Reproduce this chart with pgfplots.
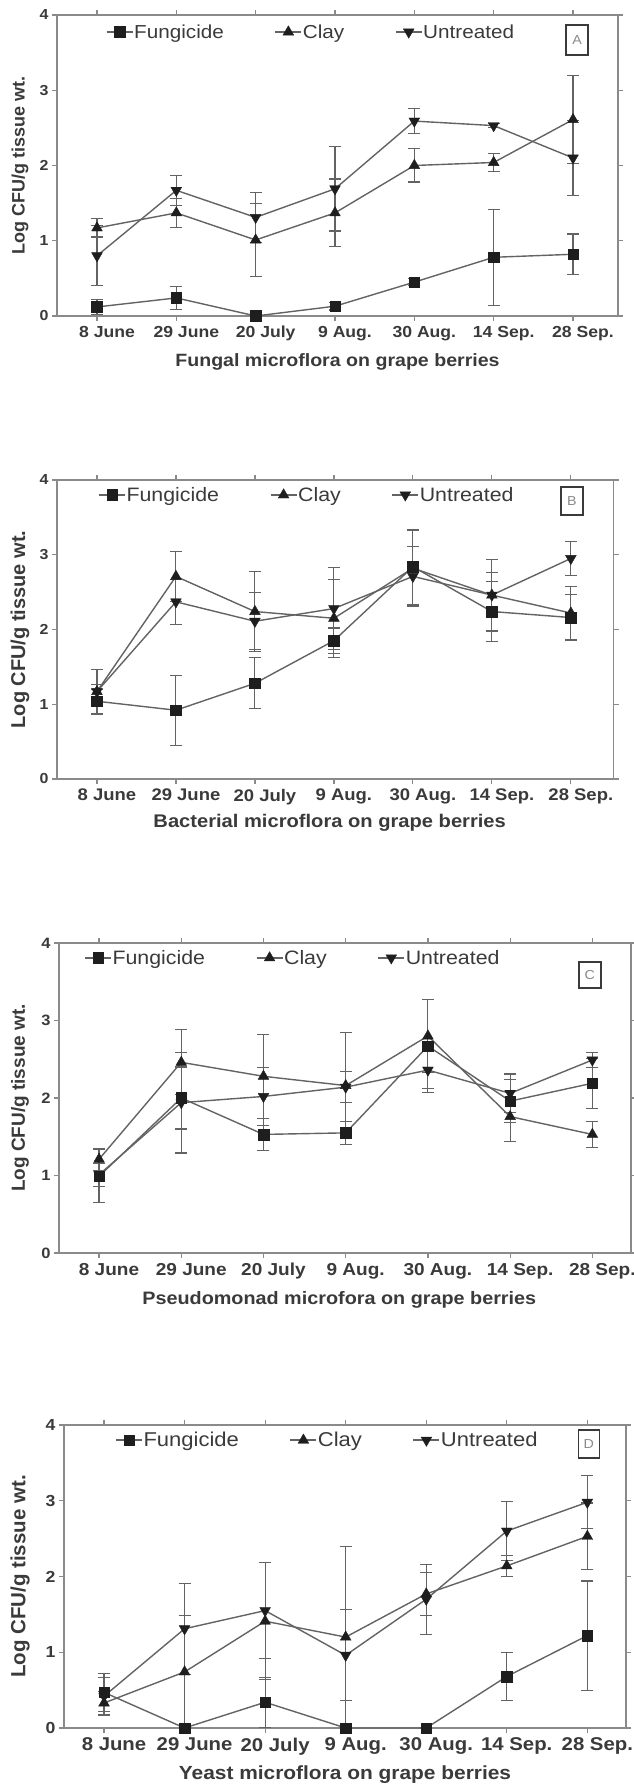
\documentclass[border=0pt]{standalone}
\usepackage{fontspec}
\setmainfont{Liberation Sans}[FakeStretch=1.1]
\newfontfamily\ylfont{Liberation Sans}
\usepackage{pgfplots}
\pgfplotsset{compat=1.18}
\usepackage{pgfplotstable}

\definecolor{frame}{HTML}{8A8A8A}
\definecolor{dline}{HTML}{636363}
\definecolor{mk}{HTML}{1E1E1E}
\definecolor{txt}{HTML}{3A3A3A}

% x: 0=8 June ... 6=28 Sep.; f=Fungicide, c=Clay, u=Untreated; *e = error
\pgfplotstableread{
x f fe c ce u ue
0 0.12 0.10 1.17 0.12 0.80 0.40
1 0.24 0.15 1.37 0.19 1.67 0.20
2 0.00 0.00 1.01 0.48 1.31 0.33
3 0.13 0.05 1.37 0.45 1.69 0.56
4 0.45 0.05 2.00 0.22 2.59 0.17
5 0.78 0.64 2.04 0.12 2.53 0.03
6 0.82 0.27 2.61 0.58 2.10 0.50
}\tA
\pgfplotstableread{
x f fe c ce u ue
0 1.04 0.16 1.17 0.30 1.17 0.10
1 0.92 0.47 2.71 0.33 2.37 0.30
2 1.28 0.34 2.24 0.53 2.11 0.38
3 1.85 0.17 2.15 0.52 2.28 0.55
4 2.84 0.50 2.82 0.50 2.71 0.40
5 2.24 0.40 2.46 0.48 2.46 0.30
6 2.16 0.31 2.22 0.36 2.95 0.23
}\tB
\pgfplotstableread{
x f fe c ce u ue
0 0.99 0.34 1.21 0.14 1.01 0.15
1 2.00 0.40 2.46 0.42 1.94 0.65
2 1.53 0.21 2.28 0.54 2.02 0.37
3 1.55 0.15 2.16 0.68 2.14 0.20
4 2.67 0.60 2.80 0.47 2.36 0.24
5 1.96 0.28 1.76 0.32 2.06 0.25
6 2.19 0.32 1.53 0.17 2.49 0.10
}\tC
\pgfplotstableread{
x f fe c ce u ue
0 0.47 0.25 0.33 0.15 0.42 0.25
1 0.00 0.00 0.74 0.74 1.31 0.60
2 0.34 0.33 1.41 0.77 1.55 0.63
3 0.00 0.00 1.20 1.20 0.96 0.60
4 0.00 0.00 1.77 0.28 1.70 0.46
5 0.68 0.32 2.14 0.14 2.60 0.39
6 1.22 0.72 2.53 0.44 2.98 0.35
}\tD

\pgfplotsset{
  panel/.style={
    scale only axis,
    anchor=south west,
    ymin=0, ymax=4,
    ytick={0,1,2,3,4},
    xtick={0,1,2,3,4,5,6},
    xticklabels={8 June,29 June,20 July,9 Aug.,30 Aug.,14 Sep.,28 Sep.},
    tick align=outside,
    major tick length=5pt,
    axis line style={frame, line width=1.5pt},
    tick style={frame, line width=1.2pt},
    clip=false,
    /pgf/number format/assume math mode=true,
    xticklabel style={text=txt, xshift=10pt, yshift=-1.5pt},
    yticklabel style={text=txt},
    xlabel style={text=txt, anchor=center},
    ylabel style={text=txt, anchor=center},
    legend columns=3,
    legend cell align=left,
    legend image code/.code={\draw[mark repeat=2,mark phase=2,##1] plot coordinates {(0pt,0pt) (13pt,0pt) (26pt,0pt)};},
    legend style={draw=none, fill=none, anchor=west, inner sep=0pt, text=txt,
      nodes={inner sep=0.8pt}, /tikz/every even column/.append style={column sep=50pt}},
  },
  fung/.style={dline, line width=1.4pt, mark=square*, mark size=5.3pt,
    mark options={mk, fill=mk, solid, line width=0.4pt}},
  clay/.style={dline, line width=1.4pt, mark=triangle*, mark size=6.2pt,
    mark options={mk, fill=mk, solid, line width=0.4pt}},
  untr/.style={dline, line width=1.4pt, mark=triangle*, mark size=6.2pt,
    mark options={mk, fill=mk, solid, line width=0.4pt, rotate=180}},
  eb/.style={error bars/.cd, y dir=both, y explicit,
    error bar style={dline, line width=1.1pt},
    error mark options={rotate=90, dline, mark size=6pt, line width=1.1pt}},
}

\newcommand{\threeplots}[1]{%
  \addplot[fung, eb] table[x=x, y=f, y error=fe] {#1};
  \addplot[clay, eb] table[x=x, y=c, y error=ce] {#1};
  \addplot[untr, eb] table[x=x, y=u, y error=ue] {#1};
  \legend{Fungicide,Clay,Untreated}
}

\begin{document}
\begin{tikzpicture}[x=1pt,y=1pt]
\useasboundingbox (0,0) rectangle (634,1789);

% ---------- A ----------
\begin{axis}[panel,
  at={(57pt,1473pt)}, width=561pt, height=301pt,
  xmin=-0.504, xmax=6.567,
  xticklabel style={font=\bfseries\fontsize{16}{18}\selectfont},
  yticklabel style={font=\bfseries\fontsize{14.5}{16}\selectfont},
  xlabel={Fungal microflora on grape berries},
  xlabel style={at={(axis description cs:0.5,-0.153)}, font=\bfseries\fontsize{17.8}{20}\selectfont},
  ylabel={Log CFU/g tissue wt.},
  ylabel style={at={(axis description cs:-0.066,0.5)}, font=\ylfont\bfseries\fontsize{18}{20}\selectfont},
  legend style={at={(0.087,0.9435)}, font=\fontsize{18.8}{20}\selectfont},
]
\threeplots{\tA}
\node[draw=txt, line width=1.8pt, inner sep=0pt, minimum width=22pt, minimum height=30pt,
  text=frame, font=\fontsize{13}{13}\selectfont] at (rel axis cs:0.927,0.917) {A};
\end{axis}

% ---------- B ----------
\begin{axis}[panel,
  at={(57pt,1010pt)}, width=556.5pt, height=299pt,
  xmin=-0.506, xmax=6.54,
  xticklabel style={font=\bfseries\fontsize{16.8}{18}\selectfont},
  yticklabel style={font=\bfseries\fontsize{14.5}{16}\selectfont},
  xlabel={Bacterial microflora on grape berries},
  xlabel style={at={(axis description cs:0.49,-0.147)}, font=\bfseries\fontsize{18.3}{20}\selectfont},
  ylabel={Log CFU/g tissue wt.},
  ylabel style={at={(axis description cs:-0.0665,0.5)}, font=\ylfont\bfseries\fontsize{20}{22}\selectfont},
  legend style={at={(0.074,0.95)}, font=\fontsize{19.4}{20}\selectfont},
]
\threeplots{\tB}
\node[draw=txt, line width=1.8pt, inner sep=0pt, minimum width=22pt, minimum height=28pt,
  text=frame, font=\fontsize{13}{13}\selectfont] at (rel axis cs:0.925,0.93) {B};
\end{axis}

% ---------- C ----------
\begin{axis}[panel,
  at={(59pt,536pt)}, width=572pt, height=310pt,
  xmin=-0.487, xmax=6.47,
  xticklabel style={font=\bfseries\fontsize{17.3}{18}\selectfont},
  yticklabel style={font=\bfseries\fontsize{15}{16}\selectfont},
  xlabel={Pseudomonad microfora on grape berries},
  xlabel style={at={(axis description cs:0.49,-0.1516)}, font=\bfseries\fontsize{18}{20}\selectfont},
  ylabel={Log CFU/g tissue wt.},
  ylabel style={at={(axis description cs:-0.0682,0.5)}, font=\ylfont\bfseries\fontsize{19}{21}\selectfont},
  legend style={at={(0.044,0.952)}, font=\fontsize{19.4}{20}\selectfont},
]
\threeplots{\tC}
\node[draw=txt, line width=1.8pt, inner sep=0pt, minimum width=22pt, minimum height=26pt,
  text=frame, font=\fontsize{13}{13}\selectfont] at (rel axis cs:0.928,0.897) {C};
\end{axis}

% ---------- D ----------
\begin{axis}[panel,
  at={(64pt,61pt)}, width=562pt, height=303pt,
  xmin=-0.497, xmax=6.48,
  xticklabel style={font=\bfseries\fontsize{18.5}{20}\selectfont},
  yticklabel style={font=\bfseries\fontsize{16}{18}\selectfont},
  xlabel={Yeast microflora on grape berries},
  xlabel style={at={(axis description cs:0.5,-0.155)}, font=\bfseries\fontsize{19}{21}\selectfont},
  ylabel={Log CFU/g tissue wt.},
  ylabel style={at={(axis description cs:-0.0783,0.5)}, font=\ylfont\bfseries\fontsize{20.5}{22}\selectfont},
  legend style={at={(0.091,0.95)}, font=\fontsize{20}{21}\selectfont},
]
\threeplots{\tD}
\node[draw=txt, line width=1.8pt, inner sep=0pt, minimum width=21pt, minimum height=28pt,
  text=frame, font=\fontsize{13}{13}\selectfont] at (rel axis cs:0.934,0.937) {D};
\end{axis}
\end{tikzpicture}
\end{document}
